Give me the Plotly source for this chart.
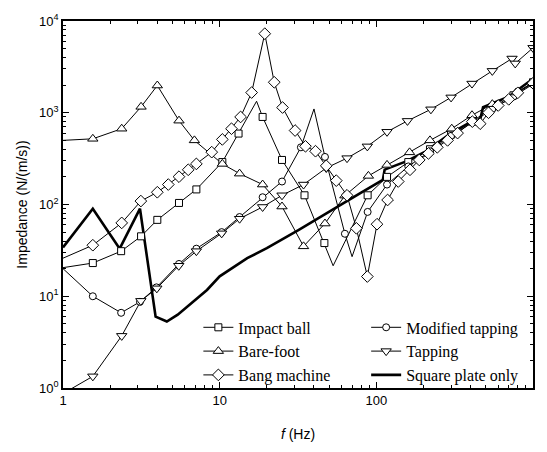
import plotly.graph_objects as go

# ---- Measured impedance data (frequency in Hz, impedance in N/(m/s)) ----
# "*_f / *_z" are the plotted measurement points (drawn with symbols);
# "*_cf / *_cz" are extra curve points (resonance peaks, dips, end points)
# that belong to the same curve but carry no symbol.

impact_f = [1.55, 2.35, 3.15, 4.0, 5.5, 7.1, 10.4, 13.2, 18.8, 25, 34.8, 46.6,
            88, 117, 160, 220, 300, 410, 550, 750, 1000]
impact_z = [23, 31, 45, 68, 104, 146, 290, 593, 900, 306, 126, 38,
            126, 200, 290, 400, 580, 800, 1150, 1550, 2150]
impact_cf = [1, 17.2, 53]
impact_cz = [20.5, 1335, 21.5]

mod_f = [1.55, 2.35, 3.1, 3.95, 5.5, 7.1, 10.3, 13.4, 18.8, 25, 33, 47, 63,
         88, 117, 160, 220, 300, 410, 550, 750, 1000]
mod_z = [10, 6.6, 8.7, 12.5, 22.5, 33, 50, 73, 120, 178, 420, 330, 48,
         83, 165, 260, 380, 560, 780, 1100, 1500, 2050]
mod_cf = [1, 40, 70]
mod_cz = [20, 1100, 27]

bare_f = [1.55, 2.37, 3.15, 4.0, 5.5, 6.9, 10.4, 13.4, 18.8, 25, 34.3, 47, 63,
          89, 117, 163, 220, 303, 408, 550, 780, 1000]
bare_z = [520, 670, 1160, 1980, 820, 500, 277, 217, 165, 95, 35, 62, 125,
          205, 270, 370, 500, 670, 940, 1240, 1660, 2130]
bare_cf = [1]
bare_cz = [500]

tap_f = [1.55, 2.37, 3.14, 3.97, 5.48, 7.1, 10.3, 13.4, 18.8, 25, 34.3, 47.9,
         65, 87.6, 117, 158, 223, 300, 408, 550, 735, 770, 1000]
tap_z = [1.34, 3.7, 8.9, 12.2, 21.5, 31, 48.5, 70, 94, 126, 165, 250,
         320, 430, 620, 815, 1090, 1470, 2080, 2860, 3900, 3450, 5100]
tap_cf = [1]
tap_cz = [0.87]

bang_f = [1.55, 2.37, 3.14, 4.0, 4.7, 5.5, 6.3, 7.1, 8.9, 10.4, 11.9, 13.6, 16,
          19.4, 22.3, 25.2, 30.3, 35.3, 40.9, 47.9, 55.5, 65, 74.6, 87.6, 101,
          118, 138, 164, 188, 215, 245, 285, 330, 410, 460, 520, 600, 700, 800,
          1000]
bang_z = [36, 63, 109, 136, 165, 201, 239, 277, 372, 512, 670, 900, 1660,
          7270, 2150, 1140, 640, 431, 381, 264, 182, 126, 55, 16.4, 61,
          112, 178, 239, 306, 360, 420, 500, 600, 800, 760, 1000, 1200, 1400,
          1650, 2100]
bang_cf = [1]
bang_cz = [26]

plate_f = [1, 1.55, 2.3, 3.1, 3.9, 4.6, 5.4, 6.6, 8.3, 10, 15, 20, 32, 52, 60,
           80, 110, 113, 155, 207, 300, 420, 450, 480, 700, 1000]
plate_z = [34, 90, 33, 90, 6.0, 5.3, 6.3, 8.4, 11.7, 16.5, 26, 33.5, 53, 87,
           100, 135, 185, 240, 295, 380, 600, 830, 720, 1150, 1500, 2350]

x_tickvals = [1, 10, 100, 1000]
x_ticktext = ["1", "10", "100", "1000"]
y_tickvals = [1, 10, 100, 1000, 10000]
y_ticktext = ["10<sup>0</sup>", "10<sup>1</sup>", "10<sup>2</sup>",
              "10<sup>3</sup>", "10<sup>4</sup>"]

# name, points, curve-only points, symbol, symbol size, legend column
series = [
    ("Impact ball", impact_f, impact_z, impact_cf, impact_cz, "square", 7, "legend"),
    ("Modified tapping", mod_f, mod_z, mod_cf, mod_cz, "circle", 7, "legend2"),
    ("Bare-foot", bare_f, bare_z, bare_cf, bare_cz, "triangle-up", 9, "legend"),
    ("Tapping", tap_f, tap_z, tap_cf, tap_cz, "triangle-down", 9, "legend2"),
    ("Bang machine", bang_f, bang_z, bang_cf, bang_cz, "diamond", 9, "legend"),
]

fig = go.Figure()

# curves through all points (measurement + resonance points)
for name, f, z, cf, cz, sym, ms, lg in series:
    pts = sorted(zip(f + cf, z + cz))
    fig.add_trace(go.Scatter(
        x=[p[0] for p in pts], y=[p[1] for p in pts], mode="lines",
        line=dict(color="black", width=1), showlegend=False,
        hoverinfo="skip"))

fig.add_trace(go.Scatter(
    x=plate_f, y=plate_z, mode="lines",
    line=dict(color="black", width=2.6), showlegend=False))

# open symbols at the measurement points
for name, f, z, cf, cz, sym, ms, lg in series:
    fig.add_trace(go.Scatter(
        x=f, y=z, mode="markers", showlegend=False,
        marker=dict(symbol=sym, size=ms, color="white",
                    line=dict(color="black", width=1))))

# legend samples: left column and right column
for name, f, z, cf, cz, sym, ms, lg in series:
    fig.add_trace(go.Scatter(
        x=[None], y=[None], mode="lines+markers", name=name, legend=lg,
        line=dict(color="black", width=1),
        marker=dict(symbol=sym, size=ms, color="white",
                    line=dict(color="black", width=1))))
fig.add_trace(go.Scatter(
    x=[None], y=[None], mode="lines", name="Square plate only",
    legend="legend2", line=dict(color="black", width=2.6)))

axis_common = dict(
    type="log", showgrid=False, zeroline=False,
    showline=True, linecolor="black", linewidth=1.5, mirror="allticks",
    ticks="inside", ticklen=6, tickwidth=1, tickcolor="black",
    minor=dict(ticks="inside", ticklen=3, tickwidth=1, tickcolor="black",
               dtick="D1", showgrid=False),
    tickfont=dict(family="Liberation Sans, Arial, sans-serif", size=13,
                  color="black"),
)

legend_common = dict(
    orientation="v", y=-0.012, yanchor="bottom", xanchor="left",
    bgcolor="rgba(0,0,0,0)", traceorder="normal", itemwidth=30,
    font=dict(family="Liberation Serif, Times New Roman, serif", size=16,
              color="black"),
)

fig.update_layout(
    width=547, height=452,
    margin=dict(l=63, r=12, t=15, b=62),
    paper_bgcolor="white", plot_bgcolor="white",
    xaxis=dict(range=[0, 3], tickvals=x_tickvals, ticktext=x_ticktext,
               title=dict(text="<i>f</i> (Hz)", standoff=22,
                          font=dict(family="Liberation Sans, Arial, sans-serif",
                                    size=14, color="black")),
               **axis_common),
    yaxis=dict(range=[0, 4], tickvals=y_tickvals, ticktext=y_ticktext,
               title=dict(text="Impedance (N/(m/s))", standoff=8,
                          font=dict(family="Liberation Sans, Arial, sans-serif",
                                    size=14, color="black")),
               **axis_common),
    legend=dict(x=0.288, **legend_common),
    legend2=dict(x=0.645, **legend_common),
    showlegend=True,
)

fig.write_html("out.html")
